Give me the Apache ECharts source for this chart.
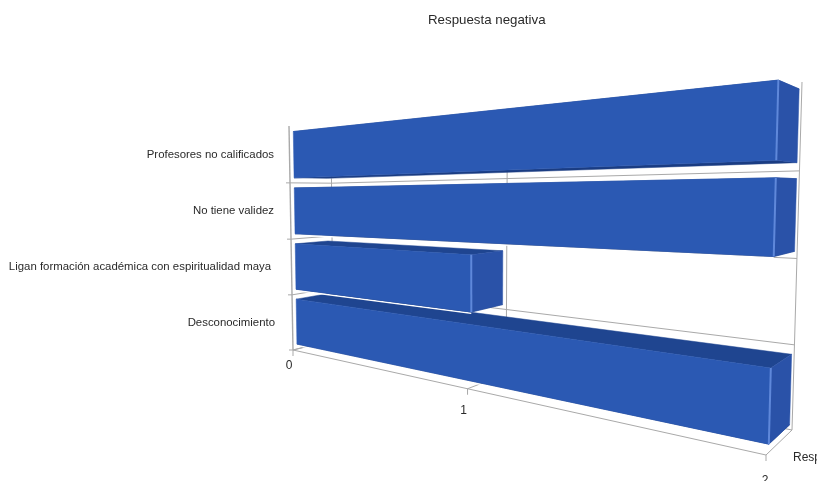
<!DOCTYPE html>
<html>
<head>
<meta charset="utf-8">
<style>html,body{margin:0;padding:0;background:#fff;overflow:hidden}#c{width:817px;height:481px}</style>
<script src="https://cdn.jsdelivr.net/npm/echarts@6/dist/echarts.min.js"></script>
</head>
<body>
<div id="c"></div>
<script>
// Chart content
const titleText = 'Respuesta negativa';
const axisName = 'Resp';
const categories = ['Desconocimiento', 'Ligan formación académica con espiritualidad maya', 'No tiene validez', 'Profesores no calificados'];
const values = [2, 1, 2, 2];
const valueTicks = [0, 1, 2];

// Flat plot rectangle that the axes scale into; the camera below turns it into the 3D box
const plot = { left: 100, top: 100, width: 600, height: 300 };

// Screen corners of the box: [value-min/cat-min, value-max/cat-min, value-max/cat-max, value-min/cat-max]
const frontQuad = [[293, 350], [766, 455], [776, 70], [289, 126]];
const backQuad = [[333, 340], [792, 430], [802, 82], [331, 130]];
const barInsetDepth = 0.1;
const barInsetBand = 0.09;
const colors = { front: '#2b59b3', top: '#1f4590', bottom: '#1a3c82', side: '#2a52a8', edge: '#5f88da', grid: '#a9a9a9', text: '#2a2a2a' };

// Unit square to quad homography
function homography(q) {
  const [p0, p1, p2, p3] = q;
  const dx1 = p1[0] - p2[0], dx2 = p3[0] - p2[0], sx = p0[0] - p1[0] + p2[0] - p3[0];
  const dy1 = p1[1] - p2[1], dy2 = p3[1] - p2[1], sy = p0[1] - p1[1] + p2[1] - p3[1];
  const det = dx1 * dy2 - dx2 * dy1;
  const g = (sx * dy2 - dx2 * sy) / det, h = (dx1 * sy - sx * dy1) / det;
  const a = p1[0] - p0[0] + g * p1[0], b = p3[0] - p0[0] + h * p3[0], c = p0[0];
  const d = p1[1] - p0[1] + g * p1[1], e = p3[1] - p0[1] + h * p3[1], f = p0[1];
  return (u, v) => { const w = g * u + h * v + 1; return [(a * u + b * v + c) / w, (d * u + e * v + f) / w]; };
}
const frontH = homography(frontQuad), backH = homography(backQuad);

// Pixel in the flat plot plus a depth (0 front, 1 back) to screen position
function project(pt, depth) {
  const u = (pt[0] - plot.left) / plot.width, v = 1 - (pt[1] - plot.top) / plot.height;
  const a = frontH(u, v), b = backH(u, v);
  return [a[0] + (b[0] - a[0]) * depth, a[1] + (b[1] - a[1]) * depth];
}

function line(a, b, width) {
  return { type: 'line', shape: { x1: a[0], y1: a[1], x2: b[0], y2: b[1] }, style: { stroke: colors.grid, lineWidth: width || 1 } };
}
function poly(points, fill) {
  return { type: 'polygon', shape: { points }, style: { fill, stroke: fill, lineWidth: 0.5, lineJoin: 'round' } };
}
function label(text, x, y, align, size) {
  return { type: 'text', style: { text, x, y, align, verticalAlign: 'middle', fill: colors.text, font: (size || 12) + 'px "Liberation Sans", Arial, sans-serif' } };
}

// Walls, floor, ticks and axis labels
function renderFrame(params, api) {
  const band = api.size([0, 1])[1];
  const n = categories.length;
  const floorY = api.coord([0, 0])[1] + band / 2;
  const at = (v, c) => [api.coord([v, 0])[0], floorY - c * band];
  const kids = [];
  // category lines on the left wall and on the back wall
  for (let c = 0; c < n; c++) {
    const f = project(at(0, c), 0), b = project(at(0, c), 1), e = project(at(2, c), 1);
    kids.push(line([f[0] - 4, f[1]], f), line(f, b), line(b, e));
  }
  kids.push(line(project(at(0, 0), 0), project(at(0, n), 0), 1.4));
  const tickOffset = [[-4, 16], [-4, 22], [-1, 26]];
  valueTicks.forEach((t, i) => {
    const f = project(at(t, 0), 0), b = project(at(t, 0), 1), top = project(at(t, n), 1);
    kids.push(line(b, top), line(f, b), line(f, [f[0], f[1] + 6]));
    kids.push(label(String(t), f[0] + tickOffset[i][0], f[1] + tickOffset[i][1], 'center'));
  });
  kids.push(line(project(at(0, 0), 0), project(at(2, 0), 0)));
  const corner = project(at(2, 0), 1);
  kids.push(label(axisName, corner[0] + 1, corner[1] + 28, 'left'));
  // category names beside the left wall
  const labelNudge = [1, -3, 0, 0];
  categories.forEach((name, i) => {
    const p = project(at(0, i + 0.5), 0);
    kids.push(label(name, 274 + labelNudge[i], p[1], 'right', 11.4));
  });
  return { type: 'group', children: kids };
}

// One solid bar: white rim under the lower edge, hidden faces, then the front face
function renderBar(params, api) {
  const base = api.coord([0, api.value(1)]);
  const tip = api.coord([api.value(0), api.value(1)]);
  const band = api.size([0, 1])[1];
  const half = band * (0.5 - barInsetBand);
  const d0 = barInsetDepth, d1 = 1 - barInsetDepth;
  const lo = base[1] + half, hi = base[1] - half;
  const P = (x, y, d) => project([x, y], d);
  const x0 = base[0], x1 = tip[0];
  const fBL = P(x0, lo, d0), fBR = P(x1, lo, d0), fTR = P(x1, hi, d0), fTL = P(x0, hi, d0);
  const bBL = P(x0, lo, d1), bBR = P(x1, lo, d1), bTR = P(x1, hi, d1), bTL = P(x0, hi, d1);
  const edge = (a, b, stroke, lineWidth) => ({ type: 'line', shape: { x1: a[0], y1: a[1], x2: b[0], y2: b[1] }, style: { stroke, lineWidth } });
  return {
    type: 'group',
    children: [
      edge([fBL[0], fBL[1] + 1.2], [fBR[0], fBR[1] + 1.2], '#ffffff', 1.6),
      poly([fTL, fTR, bTR, bTL], colors.top),
      poly([fBL, fBR, bBR, bBL], colors.bottom),
      poly([fBR, fTR, bTR, bBR], colors.side),
      poly([fBL, fBR, fTR, fTL], colors.front),
      edge(fTR, fBR, colors.edge, 2)
    ]
  };
}

const chart = echarts.init(document.getElementById('c'), null, { renderer: 'canvas' });
chart.setOption({
  animation: false,
  backgroundColor: '#fff',
  title: {
    text: titleText, left: 423, top: 9,
    textStyle: { fontSize: 13.3, fontWeight: 'normal', color: colors.text, fontFamily: '"Liberation Sans", Arial, sans-serif' }
  },
  grid: plot,
  xAxis: { type: 'value', min: 0, max: 2, interval: 1, show: false },
  yAxis: { type: 'category', data: categories, show: false },
  series: [
    { type: 'custom', z: 1, silent: true, clip: false, data: [[0, 0]], encode: { x: 0, y: 1 }, renderItem: renderFrame },
    { type: 'custom', z: 2, silent: true, clip: false, encode: { x: 0, y: 1 }, data: values.map((v, i) => [v, i]), renderItem: renderBar }
  ]
});
</script>
</body>
</html>
